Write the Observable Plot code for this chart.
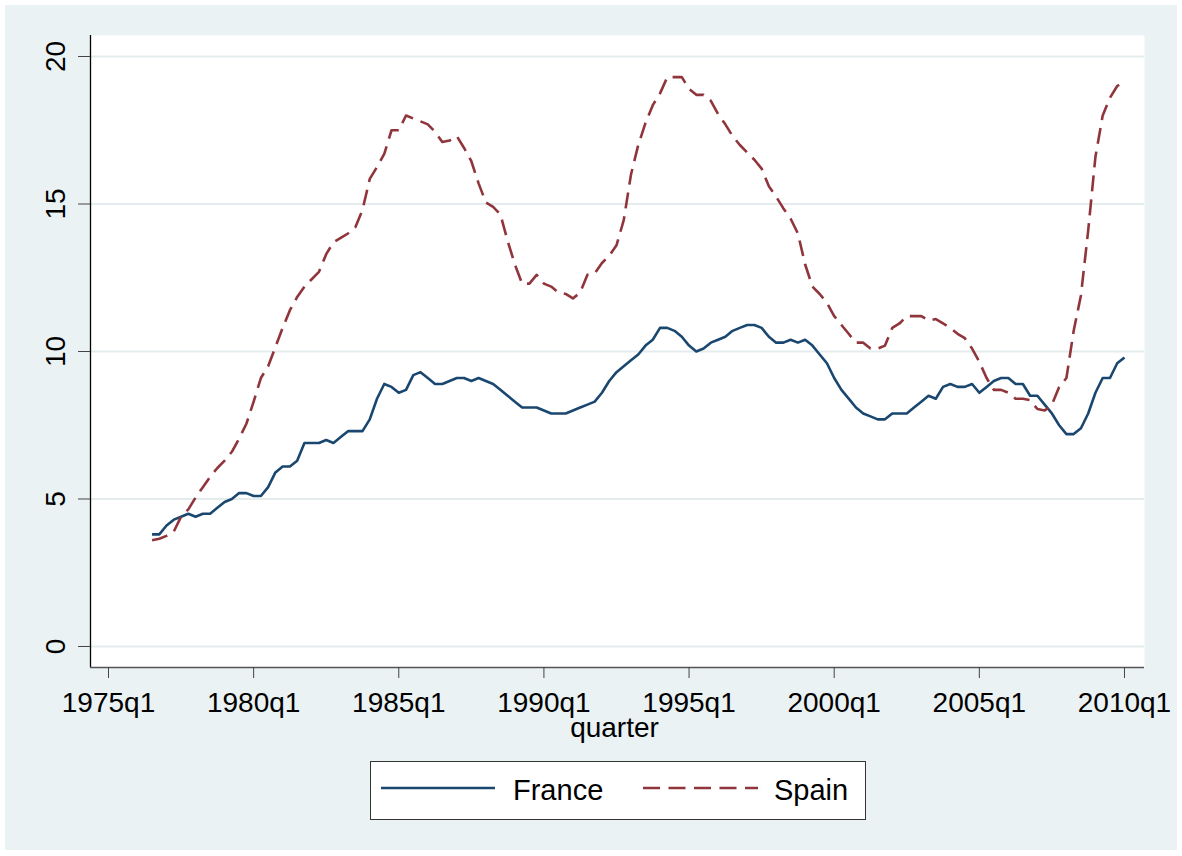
<!DOCTYPE html>
<html>
<head>
<meta charset="utf-8">
<script src="https://cdn.jsdelivr.net/npm/d3@7"></script>
<script src="https://cdn.jsdelivr.net/npm/@observablehq/plot@0.6"></script>
<style>
  html, body { margin: 0; padding: 0; background: #ffffff; }
  #page { position: relative; width: 1182px; height: 856px; overflow: hidden; font-family: "Liberation Sans", Arial, sans-serif; }
  #bg { position: absolute; left: 5px; top: 5px; width: 1172px; height: 845px; background: #eaf2f3; }
  #chart { position: absolute; left: 0; top: 0; }
  #legend { position: absolute; left: 0; top: 0; }
</style>
</head>
<body>
<div id="page">
  <div id="bg"></div>
  <div id="chart"></div>
  <div id="legend"></div>
</div>
<script>
// ---- data (quarterly, first observation 1976q3) ----
const firstYear = 1976;
const firstQuarter = 3;
const france = [
  3.8, 3.8, 4.1, 4.3, 4.4, 4.5, 4.4, 4.5, 4.5, 4.7,
  4.9, 5.0, 5.2, 5.2, 5.1, 5.1, 5.4, 5.9, 6.1, 6.1,
  6.3, 6.9, 6.9, 6.9, 7.0, 6.9, 7.1, 7.3, 7.3, 7.3,
  7.7, 8.4, 8.9, 8.8, 8.6, 8.7, 9.2, 9.3, 9.1, 8.9,
  8.9, 9.0, 9.1, 9.1, 9.0, 9.1, 9.0, 8.9, 8.7, 8.5,
  8.3, 8.1, 8.1, 8.1, 8.0, 7.9, 7.9, 7.9, 8.0, 8.1,
  8.2, 8.3, 8.6, 9.0, 9.3, 9.5, 9.7, 9.9, 10.2, 10.4,
  10.8, 10.8, 10.7, 10.5, 10.2, 10.0, 10.1, 10.3, 10.4, 10.5,
  10.7, 10.8, 10.9, 10.9, 10.8, 10.5, 10.3, 10.3, 10.4, 10.3,
  10.4, 10.2, 9.9, 9.6, 9.1, 8.7, 8.4, 8.1, 7.9, 7.8,
  7.7, 7.7, 7.9, 7.9, 7.9, 8.1, 8.3, 8.5, 8.4, 8.8,
  8.9, 8.8, 8.8, 8.9, 8.6, 8.8, 9.0, 9.1, 9.1, 8.9,
  8.9, 8.5, 8.5, 8.2, 7.9, 7.5, 7.2, 7.2, 7.4, 7.9,
  8.6, 9.1, 9.1, 9.6, 9.8
];
const spain = [
  3.6, 3.65, 3.75, 3.9, 4.4, 4.65, 5.05, 5.4, 5.75, 6.05,
  6.3, 6.6, 7.05, 7.55, 8.3, 9.1, 9.5, 10.15, 10.8, 11.4,
  11.85, 12.2, 12.45, 12.7, 13.3, 13.7, 13.85, 14.0, 14.2, 14.8,
  15.85, 16.25, 16.7, 17.5, 17.5, 18.0, 17.9, 17.8, 17.7, 17.45,
  17.1, 17.15, 17.3, 16.9, 16.45, 15.7, 15.05, 14.9, 14.65, 13.75,
  12.95, 12.3, 12.3, 12.6, 12.3, 12.2, 12.0, 11.95, 11.8, 12.0,
  12.6, 12.65, 13.0, 13.25, 13.6, 14.45, 16.0, 17.0, 17.75, 18.35,
  18.75, 19.3, 19.3, 19.3, 18.9, 18.7, 18.7, 18.5, 18.05, 17.7,
  17.3, 17.0, 16.75, 16.5, 16.2, 15.6, 15.25, 14.85, 14.5, 14.0,
  12.95, 12.2, 11.95, 11.65, 11.2, 10.9, 10.6, 10.3, 10.3, 10.1,
  10.1, 10.2, 10.8, 10.95, 11.2, 11.2, 11.2, 11.05, 11.1, 10.95,
  10.8, 10.6, 10.45, 10.1, 9.65, 9.1, 8.7, 8.7, 8.6, 8.4,
  8.4, 8.35, 8.05, 8.0, 8.2, 8.8, 9.1, 10.7, 11.9, 14.1,
  16.6, 18.0, 18.6, 19.0, 19.15
];
const seriesNames = ["France", "Spain"];
const seriesColors = ["#1a476f", "#90353b"];
const yTicks = [0, 5, 10, 15, 20];
const xTickYears = [1975, 1980, 1985, 1990, 1995, 2000, 2005, 2010];
const xTickLabels = ["1975q1", "1980q1", "1985q1", "1990q1", "1995q1", "2000q1", "2005q1", "2010q1"];
const xTitle = "quarter";

// ---- build table ----
const t0 = firstYear + (firstQuarter - 1) / 4;
const rows = [];
[france, spain].forEach((vals, s) => {
  vals.forEach((v, i) => rows.push({ t: t0 + i / 4, v, s: seriesNames[s] }));
});

const W = 1182, H = 750;
const xDomain = [1974.38, 2010.69];
const yDomain = [-0.712, 20.712];
const font = "'Liberation Sans', Arial, sans-serif";

const chart = Plot.plot({
  width: W,
  height: H,
  marginLeft: 90,
  marginRight: 38,
  marginTop: 35,
  marginBottom: 83,
  style: { background: "transparent", fontFamily: font, overflow: "visible", color: "#000" },
  x: { domain: xDomain, label: null },
  y: { domain: yDomain, label: null },
  color: { domain: seriesNames, range: seriesColors },
  marks: [
    Plot.frame({ fill: "white", stroke: "none" }),
    Plot.gridY(yTicks, { stroke: "#e4ecee", strokeOpacity: 1, strokeWidth: 2 }),
    Plot.line(rows.filter(d => d.s === "France"), {
      x: "t", y: "v", stroke: seriesColors[0], strokeWidth: 2.6, strokeLinecap: "butt"
    }),
    Plot.line(rows.filter(d => d.s === "Spain"), {
      x: "t", y: "v", stroke: seriesColors[1], strokeWidth: 2.6, strokeDasharray: "16,8", strokeLinecap: "butt"
    }),
    Plot.ruleX([xDomain[0]], { stroke: "#000", strokeWidth: 1.3 }),
    Plot.ruleY([yDomain[0]], { stroke: "#555", strokeWidth: 1.3 }),
    Plot.axisY(yTicks, { tickSize: 12, tickFormat: () => "", stroke: "#444" }),
    Plot.text(yTicks, {
      y: d => d, frameAnchor: "left", dx: -34, rotate: -90,
      text: d => String(d), fontSize: 28, fill: "#000", textAnchor: "middle"
    }),
    Plot.axisX(xTickYears, {
      tickSize: 11, tickPadding: 14, fontSize: 28, stroke: "#444", fill: "#000",
      tickFormat: d => xTickLabels[xTickYears.indexOf(d)]
    }),
    Plot.text([xTitle], {
      frameAnchor: "bottom", dx: -3, dy: 69, text: d => d, fontSize: 28, fill: "#000"
    })
  ]
});
document.getElementById("chart").appendChild(chart);

// ---- legend ----
const leg = d3.select("#legend").append("svg")
  .attr("width", W).attr("height", 856)
  .style("font-family", font);
leg.append("rect").attr("x", 370.5).attr("y", 761.5).attr("width", 495).attr("height", 58)
  .attr("fill", "white").attr("stroke", "#333").attr("stroke-width", 1);
const items = [
  { name: seriesNames[0], color: seriesColors[0], dash: null, x1: 381, x2: 495, tx: 513 },
  { name: seriesNames[1], color: seriesColors[1], dash: "17,8.5", x1: 643, x2: 758, tx: 774 }
];
items.forEach(it => {
  const l = leg.append("line").attr("x1", it.x1).attr("x2", it.x2).attr("y1", 788).attr("y2", 788)
    .attr("stroke", it.color).attr("stroke-width", 2.6);
  if (it.dash) l.attr("stroke-dasharray", it.dash);
  leg.append("text").attr("x", it.tx).attr("y", 800).attr("font-size", 29).attr("fill", "#000").text(it.name);
});
</script>
</body>
</html>
